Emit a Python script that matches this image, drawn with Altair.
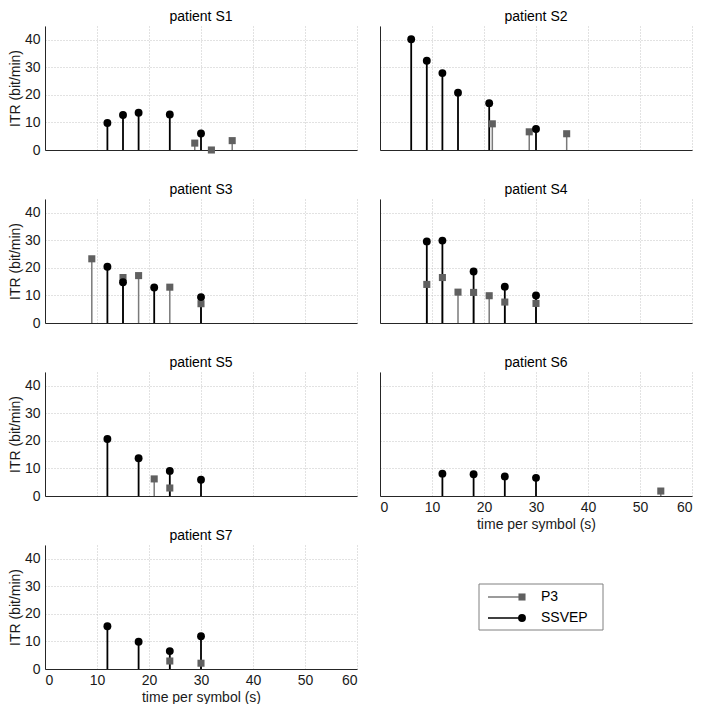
import altair as alt
import pandas as pd

PATIENTS = ["S1", "S2", "S3", "S4", "S5", "S6", "S7"]
SERIES = ["P3", "SSVEP"]
X_TICKS = [0, 10, 20, 30, 40, 50, 60]
Y_TICKS = [0, 10, 20, 30, 40]

S1_SSVEP_T = [12, 15, 18, 24, 30]
S1_SSVEP_ITR = [9.8, 12.7, 13.5, 12.9, 6.0]
S1_P3_T = [28.8, 32, 36]
S1_P3_ITR = [2.5, 0.0, 3.4]

S2_SSVEP_T = [6, 9, 12, 15, 21, 30]
S2_SSVEP_ITR = [40.2, 32.4, 27.9, 20.8, 17.0, 7.6]
S2_P3_T = [21.6, 28.7, 35.9]
S2_P3_ITR = [9.5, 6.6, 5.9]

S3_SSVEP_T = [12, 15, 21, 30]
S3_SSVEP_ITR = [20.4, 14.8, 12.9, 9.4]
S3_P3_T = [9, 15, 18, 24, 30]
S3_P3_ITR = [23.3, 16.5, 17.2, 13.0, 7.0]

S4_SSVEP_T = [9, 12, 18, 24, 30]
S4_SSVEP_ITR = [29.6, 29.9, 18.7, 13.2, 10.0]
S4_P3_T = [9, 12, 15, 18, 21, 24, 30]
S4_P3_ITR = [14.0, 16.5, 11.2, 11.1, 9.9, 7.6, 7.1]

S5_SSVEP_T = [12, 18, 24, 30]
S5_SSVEP_ITR = [20.7, 13.7, 9.1, 5.9]
S5_P3_T = [21, 24]
S5_P3_ITR = [6.2, 2.9]

S6_SSVEP_T = [12, 18, 24, 30]
S6_SSVEP_ITR = [8.1, 7.9, 7.1, 6.6]
S6_P3_T = [54]
S6_P3_ITR = [1.8]

S7_SSVEP_T = [12, 18, 24, 30]
S7_SSVEP_ITR = [15.5, 9.9, 6.5, 11.9]
S7_P3_T = [24, 30]
S7_P3_ITR = [2.9, 2.1]

SRC = {
    "S1": (S1_P3_T, S1_P3_ITR, S1_SSVEP_T, S1_SSVEP_ITR),
    "S2": (S2_P3_T, S2_P3_ITR, S2_SSVEP_T, S2_SSVEP_ITR),
    "S3": (S3_P3_T, S3_P3_ITR, S3_SSVEP_T, S3_SSVEP_ITR),
    "S4": (S4_P3_T, S4_P3_ITR, S4_SSVEP_T, S4_SSVEP_ITR),
    "S5": (S5_P3_T, S5_P3_ITR, S5_SSVEP_T, S5_SSVEP_ITR),
    "S6": (S6_P3_T, S6_P3_ITR, S6_SSVEP_T, S6_SSVEP_ITR),
    "S7": (S7_P3_T, S7_P3_ITR, S7_SSVEP_T, S7_SSVEP_ITR),
}

rows = []
for p in PATIENTS:
    pt, pv, st, sv = SRC[p]
    for t, v in zip(pt, pv):
        rows.append({"patient": p, "series": "P3", "t": t, "itr": v})
    for t, v in zip(st, sv):
        rows.append({"patient": p, "series": "SSVEP", "t": t, "itr": v})
df = pd.DataFrame(rows)
leg_df = pd.DataFrame({"series": SERIES})

FONT = "Liberation Sans"
FS = 14
GRAY_STEM = "#7a7a7a"
GRAY_MARK = "#606060"
BLACK = "#000000"
W, H = 312, 124


def panel(p, left, xlab, legend=False):
    d = df[df.patient == p]
    x = alt.X(
        "t:Q",
        scale=alt.Scale(domain=[0, 60], nice=False, zero=False),
        axis=alt.Axis(
            values=X_TICKS,
            labels=xlab,
            title="time per symbol (s)" if xlab else None,
            labelPadding=4,
            titlePadding=3,
        ),
    )
    y = alt.Y(
        "itr:Q",
        scale=alt.Scale(domain=[0, 45], nice=False),
        axis=alt.Axis(
            values=Y_TICKS,
            labels=left,
            title="ITR (bit/min)" if left else None,
            labelPadding=5,
            titlePadding=2,
        ),
    )
    base = alt.Chart(d)
    p3 = base.transform_filter(alt.datum.series == "P3")
    ss = base.transform_filter(alt.datum.series == "SSVEP")
    layers = [
        p3.mark_rule(color=GRAY_STEM, strokeWidth=1.5).encode(x=x, y=y, y2=alt.datum(0)),
        ss.mark_rule(color=BLACK, strokeWidth=1.8).encode(x=x, y=y, y2=alt.datum(0)),
        p3.mark_point(shape="square", filled=True, size=50, color=GRAY_MARK, opacity=1).encode(x=x, y=y),
        ss.mark_point(shape="circle", filled=True, size=62, color=BLACK, opacity=1).encode(x=x, y=y),
    ]
    if legend:
        lx0, lx1, ly0, ly1 = 99, 223, 212, 258
        rows_y = [225, 246]
        styles = [
            (GRAY_STEM, GRAY_MARK, "square", 50, 1.3),
            (BLACK, BLACK, "circle", 62, 1.3),
        ]
        lb = alt.Chart(leg_df)
        layers.append(
            lb.transform_filter(alt.datum.series == SERIES[0]).mark_rect(
                fill="white", stroke="#808080", strokeWidth=1
            ).encode(x=alt.value(lx0), x2=alt.value(lx1), y=alt.value(ly0), y2=alt.value(ly1))
        )
        for i, s in enumerate(SERIES):
            lc, mc, shp, sz, sw = styles[i]
            li = lb.transform_filter(alt.datum.series == s)
            layers.append(li.mark_rule(color=lc, strokeWidth=sw).encode(
                x=alt.value(108), x2=alt.value(142), y=alt.value(rows_y[i])))
            layers.append(li.mark_point(shape=shp, filled=True, size=sz, color=mc, opacity=1).encode(
                x=alt.value(142), y=alt.value(rows_y[i])))
            layers.append(li.mark_text(align="left", baseline="middle", font=FONT, fontSize=FS, color="#000").encode(
                x=alt.value(161), y=alt.value(rows_y[i]), text="series:N"))
    return alt.layer(*layers).properties(
        width=W,
        height=H,
        title=alt.TitleParams(
            text=f"patient {p}", font=FONT, fontSize=FS, fontWeight="normal",
            color="#000", anchor="middle", offset=2,
        ),
    )


left_col = alt.vconcat(
    panel("S1", True, False),
    panel("S3", True, False),
    panel("S5", True, False),
    panel("S7", True, True),
    spacing=49,
    bounds="flush",
)
right_col = alt.vconcat(
    panel("S2", False, False),
    panel("S4", False, False),
    panel("S6", False, True, legend=True),
    spacing=49,
    bounds="flush",
)

chart = alt.hconcat(left_col, right_col, spacing=21).properties(
    padding={"top": 2, "left": 0, "right": 0, "bottom": 0}
).configure_view(
    stroke=None
).configure_axis(
    grid=True,
    gridColor="#c4c4c4",
    gridDash=[1, 2],
    gridWidth=1,
    domainColor="#262626",
    domainWidth=1,
    tickSize=0,
    labelFont=FONT,
    labelFontSize=FS,
    labelColor="#1a1a1a",
    titleFont=FONT,
    titleFontSize=FS,
    titleFontWeight="normal",
    titleColor="#1a1a1a",
)

chart.save("out.html", embed_options={"renderer": "svg", "actions": False})
